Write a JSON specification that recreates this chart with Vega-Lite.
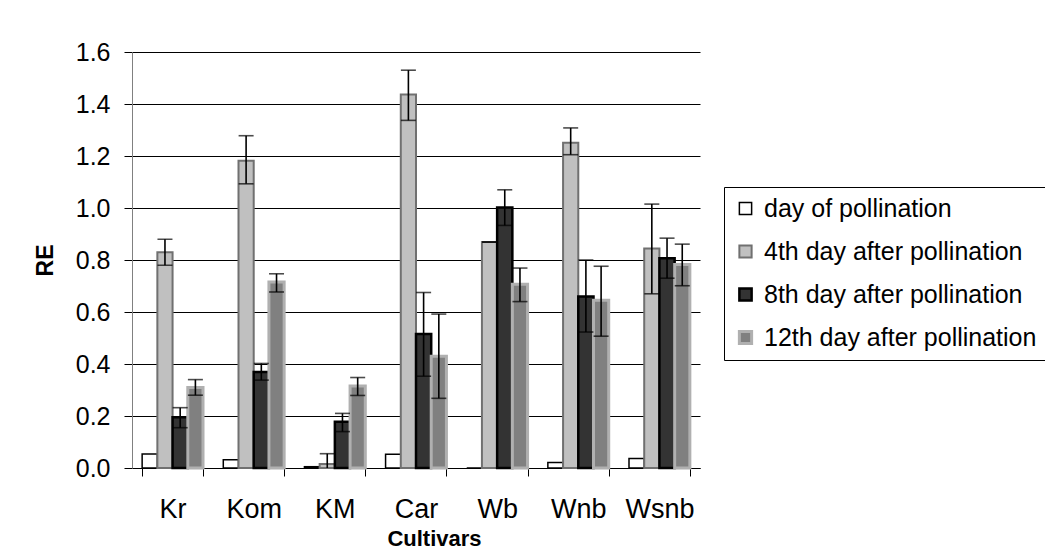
{
  "$schema": "https://vega.github.io/schema/vega-lite/v6.json",
  "autosize": {"type": "none"},
  "width": 568,
  "height": 416,
  "padding": {"left": 132, "top": 52, "right": 345, "bottom": 89},
  "background": "white",
  "config": {
    "font": "Liberation Sans",
    "view": {"stroke": null},
    "axis": {"labelColor": "black", "titleColor": "black", "tickColor": "black", "labelFont": "Liberation Sans", "titleFont": "Liberation Sans"}
  },
  "data": {
    "values": [
      {"cultivar": "Kr", "series": "day of pollination", "value": 0.054, "lo": null, "hi": null},
      {"cultivar": "Kr", "series": "4th day after pollination", "value": 0.83, "lo": 0.78, "hi": 0.88},
      {"cultivar": "Kr", "series": "8th day after pollination", "value": 0.195, "lo": 0.155, "hi": 0.232},
      {"cultivar": "Kr", "series": "12th day after pollination", "value": 0.31, "lo": 0.28, "hi": 0.34},
      {"cultivar": "Kom", "series": "day of pollination", "value": 0.032, "lo": null, "hi": null},
      {"cultivar": "Kom", "series": "4th day after pollination", "value": 1.182, "lo": 1.093, "hi": 1.278},
      {"cultivar": "Kom", "series": "8th day after pollination", "value": 0.369, "lo": 0.338, "hi": 0.402},
      {"cultivar": "Kom", "series": "12th day after pollination", "value": 0.715, "lo": 0.677, "hi": 0.747},
      {"cultivar": "KM", "series": "day of pollination", "value": 0.005, "lo": null, "hi": null},
      {"cultivar": "KM", "series": "4th day after pollination", "value": 0.015, "lo": 0.0, "hi": 0.055},
      {"cultivar": "KM", "series": "8th day after pollination", "value": 0.178, "lo": 0.14, "hi": 0.21},
      {"cultivar": "KM", "series": "12th day after pollination", "value": 0.315, "lo": 0.279, "hi": 0.348},
      {"cultivar": "Car", "series": "day of pollination", "value": 0.053, "lo": null, "hi": null},
      {"cultivar": "Car", "series": "4th day after pollination", "value": 1.437, "lo": 1.337, "hi": 1.53},
      {"cultivar": "Car", "series": "8th day after pollination", "value": 0.515, "lo": 0.353, "hi": 0.675},
      {"cultivar": "Car", "series": "12th day after pollination", "value": 0.43, "lo": 0.268, "hi": 0.592},
      {"cultivar": "Wb", "series": "day of pollination", "value": 0.0, "lo": null, "hi": null},
      {"cultivar": "Wb", "series": "4th day after pollination", "value": 0.869, "lo": 0.869, "hi": 0.869},
      {"cultivar": "Wb", "series": "8th day after pollination", "value": 1.002, "lo": 0.933, "hi": 1.07},
      {"cultivar": "Wb", "series": "12th day after pollination", "value": 0.707, "lo": 0.64, "hi": 0.769},
      {"cultivar": "Wnb", "series": "day of pollination", "value": 0.021, "lo": null, "hi": null},
      {"cultivar": "Wnb", "series": "4th day after pollination", "value": 1.251, "lo": 1.205, "hi": 1.308},
      {"cultivar": "Wnb", "series": "8th day after pollination", "value": 0.66, "lo": 0.523, "hi": 0.8},
      {"cultivar": "Wnb", "series": "12th day after pollination", "value": 0.645, "lo": 0.507, "hi": 0.776},
      {"cultivar": "Wsnb", "series": "day of pollination", "value": 0.037, "lo": null, "hi": null},
      {"cultivar": "Wsnb", "series": "4th day after pollination", "value": 0.844, "lo": 0.67, "hi": 1.015},
      {"cultivar": "Wsnb", "series": "8th day after pollination", "value": 0.807, "lo": 0.73, "hi": 0.884},
      {"cultivar": "Wsnb", "series": "12th day after pollination", "value": 0.783, "lo": 0.701, "hi": 0.861}
    ]
  },
  "encoding": {
    "x": {
      "field": "cultivar", "type": "nominal", "sort": null,
      "scale": {"paddingInner": 0.25, "paddingOuter": 0.125},
      "axis": {
        "title": "Cultivars", "titleFontSize": 22, "titleFontWeight": "bold", "titlePadding": 6, "titleX": 302,
        "labelAngle": 0, "labelFontSize": 27, "labelPadding": 20,
        "tickBand": "extent", "tickSize": 8, "domainColor": "black", "grid": false
      }
    },
    "xOffset": {
      "field": "series", "type": "nominal", "sort": null,
      "scale": {"domain": ["day of pollination", "4th day after pollination", "8th day after pollination", "12th day after pollination"], "paddingInner": 0, "paddingOuter": 0}
    }
  },
  "layer": [
    {
      "mark": {"type": "bar"},
      "encoding": {
        "y": {
          "field": "value", "type": "quantitative",
          "scale": {"domain": [0, 1.6], "nice": false},
          "axis": {
            "title": "RE", "titleFontSize": 23, "titleFontWeight": "bold", "titlePadding": 18,
            "values": [0, 0.2, 0.4, 0.6, 0.8, 1.0, 1.2, 1.4, 1.6], "format": ".1f",
            "labelFontSize": 25, "labelPadding": 14, "tickSize": 8,
            "domainColor": "#808080", "gridColor": "black", "gridWidth": 1, "gridOpacity": 1
          }
        },
        "fill": {
          "field": "series", "type": "nominal", "sort": null,
          "scale": {
            "domain": ["day of pollination", "4th day after pollination", "8th day after pollination", "12th day after pollination"],
            "range": ["#ffffff", "#c0c0c0", "#333333", "#808080"]
          },
          "legend": {
            "title": null, "orient": "none", "legendX": 592, "legendY": 135,
            "labelFontSize": 25, "labelColor": "black", "labelFont": "Liberation Sans",
            "symbolType": "square", "symbolSize": 150, "symbolStrokeWidth": 2, "labelOffset": 6,
            "rowPadding": 17, "padding": 9, "strokeColor": "black", "fillColor": "white", "labelLimit": 400
          }
        },
        "stroke": {
          "field": "series", "type": "nominal", "sort": null,
          "scale": {
            "domain": ["day of pollination", "4th day after pollination", "8th day after pollination", "12th day after pollination"],
            "range": ["#000000", "#707070", "#000000", "#b0b0b0"]
          }
        },
        "strokeWidth": {
          "field": "series", "type": "nominal", "sort": null,
          "scale": {
            "domain": ["day of pollination", "4th day after pollination", "8th day after pollination", "12th day after pollination"],
            "range": [1.5, 3, 1.5, 2.5]
          },
          "legend": null
        }
      }
    },
    {
      "transform": [{"filter": "datum.hi != null"}],
      "mark": {"type": "rule", "color": "black", "strokeWidth": 1.6},
      "encoding": {
        "y": {"field": "lo", "type": "quantitative"},
        "y2": {"field": "hi"}
      }
    },
    {
      "transform": [{"filter": "datum.hi != null"}],
      "mark": {"type": "tick", "color": "black", "thickness": 1.6, "size": 15, "orient": "horizontal"},
      "encoding": {
        "y": {"field": "hi", "type": "quantitative"}
      }
    },
    {
      "transform": [{"filter": "datum.lo != null && datum.lo > 0"}],
      "mark": {"type": "tick", "color": "black", "thickness": 1.6, "size": 15, "orient": "horizontal"},
      "encoding": {
        "y": {"field": "lo", "type": "quantitative"}
      }
    }
  ]
}
